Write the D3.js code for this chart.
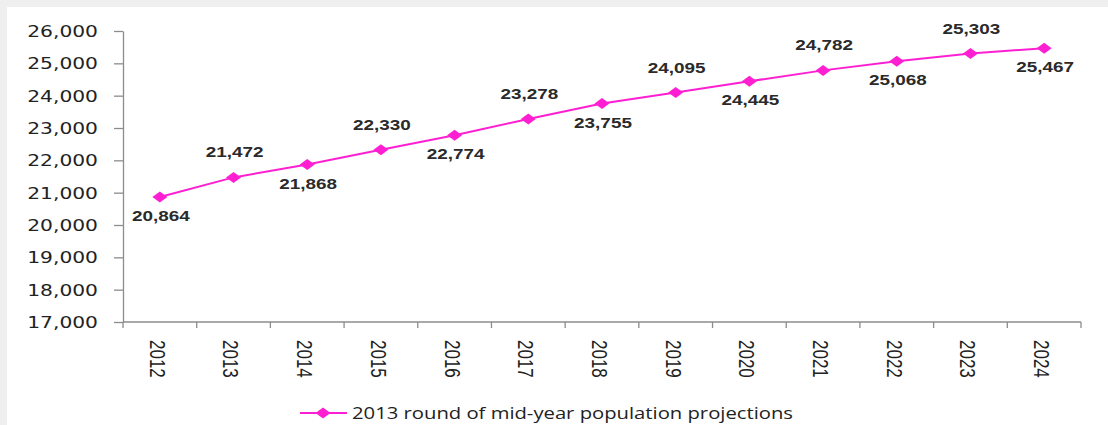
<!DOCTYPE html>
<html>
<head>
<meta charset="utf-8">
<script src="https://cdn.jsdelivr.net/npm/d3@7"></script>
<style>
  html, body { margin: 0; padding: 0; background: #efefef; }
  svg { display: block; }
</style>
</head>
<body>
<svg id="chart" width="1108" height="425"></svg>
<script>
// chart data
const years = ["2012", "2013", "2014", "2015", "2016", "2017", "2018", "2019", "2020", "2021", "2022", "2023", "2024"];
const population = [20864, 21472, 21868, 22330, 22774, 23278, 23755, 24095, 24445, 24782, 25068, 25303, 25467];
const yTicks = [17000, 18000, 19000, 20000, 21000, 22000, 23000, 24000, 25000, 26000];
const seriesName = "2013 round of mid-year population projections";

const pink = "#ff1fd2";
const axisGrey = "#8c8c8c";
const stretch = 1.35; // the original picture is wider than it is tall

const svg = d3.select("#chart");

// white chart area inside the grey frame
svg.append("rect")
  .attr("x", 7).attr("y", 7)
  .attr("width", 1101).attr("height", 418)
  .attr("fill", "#fff");

const x = d3.scaleBand()
  .domain(years)
  .range([123, 1081]);

const y = d3.scaleLinear()
  .domain([17000, 26000])
  .range([322, 31]);

// y axis
const yAxis = svg.append("g")
  .attr("transform", "translate(123,0)")
  .call(d3.axisLeft(y).tickValues(yTicks).tickSize(9).tickSizeOuter(0).tickFormat(d3.format(",")));

yAxis.select(".domain").attr("stroke", axisGrey).attr("stroke-width", 1.3);
yAxis.selectAll(".tick line").attr("stroke", axisGrey).attr("stroke-width", 1.3);
yAxis.selectAll(".tick text")
  .attr("x", 0)
  .attr("dy", "0.36em")
  .attr("transform", `translate(-25,0) scale(${stretch},1)`)
  .style("font-family", "'DejaVu Sans', sans-serif")
  .style("font-size", "15px")
  .style("text-anchor", "end")
  .attr("fill", "#222");

// x axis line and category dividers
svg.append("line")
  .attr("x1", x.range()[0]).attr("x2", x.range()[1])
  .attr("y1", y(17000)).attr("y2", y(17000))
  .attr("stroke", axisGrey).attr("stroke-width", 1.3);

svg.selectAll("x-ticks")
  .data(years.concat(["end"]))
  .enter()
  .append("line")
  .attr("x1", (d, i) => x.range()[0] + i * x.step())
  .attr("x2", (d, i) => x.range()[0] + i * x.step())
  .attr("y1", y(17000))
  .attr("y2", y(17000) + 6)
  .attr("stroke", axisGrey).attr("stroke-width", 1.3);

// rotated year labels
svg.selectAll("x-labels")
  .data(years)
  .enter()
  .append("text")
  .attr("transform", d => `translate(${x(d) + x.bandwidth() / 2 - 2},${y(17000) + 18}) scale(${stretch},1) rotate(90)`)
  .attr("dy", "0.35em")
  .style("font-family", "'Liberation Sans', Arial, sans-serif")
  .style("font-size", "17px")
  .attr("fill", "#222")
  .text(d => d);

// line
const points = years.map((d, i) => ({ year: d, value: population[i] }));
const line = d3.line()
  .x(d => x(d.year) + x.bandwidth() / 2)
  .y(d => y(d.value));

svg.append("path")
  .datum(points)
  .attr("d", line)
  .attr("fill", "none")
  .attr("stroke", pink)
  .attr("stroke-width", 2);

// diamond markers
const diamond = "M-7.5,0L0,-5.5L7.5,0L0,5.5Z";
svg.selectAll("markers")
  .data(points)
  .enter()
  .append("path")
  .attr("transform", d => `translate(${x(d.year) + x.bandwidth() / 2},${y(d.value)})`)
  .attr("d", diamond)
  .attr("fill", pink);

// data labels, alternating below / above
svg.selectAll("value-labels")
  .data(points)
  .enter()
  .append("text")
  .attr("transform", (d, i) => `translate(${x(d.year) + x.bandwidth() / 2 + 1},${y(d.value) + (i % 2 === 0 ? 24 : -20)}) scale(${stretch},1)`)
  .style("font-family", "'Liberation Sans', Arial, sans-serif")
  .style("font-size", "14px")
  .style("font-weight", "bold")
  .style("text-anchor", "middle")
  .attr("fill", "#2a2a2a")
  .text(d => d3.format(",")(d.value));

// legend
const legend = svg.append("g").attr("transform", "translate(300,413)");
legend.append("line")
  .attr("x1", 0).attr("x2", 47)
  .attr("y1", 0).attr("y2", 0)
  .attr("stroke", pink).attr("stroke-width", 2);
legend.append("path")
  .attr("transform", "translate(23,0)")
  .attr("d", diamond)
  .attr("fill", pink);
legend.append("text")
  .attr("x", 52)
  .attr("y", 6)
  .attr("textLength", 441)
  .attr("lengthAdjust", "spacingAndGlyphs")
  .style("font-family", "'Open Sans', sans-serif")
  .style("font-size", "17px")
  .attr("fill", "#222")
  .text(seriesName);
</script>
</body>
</html>
